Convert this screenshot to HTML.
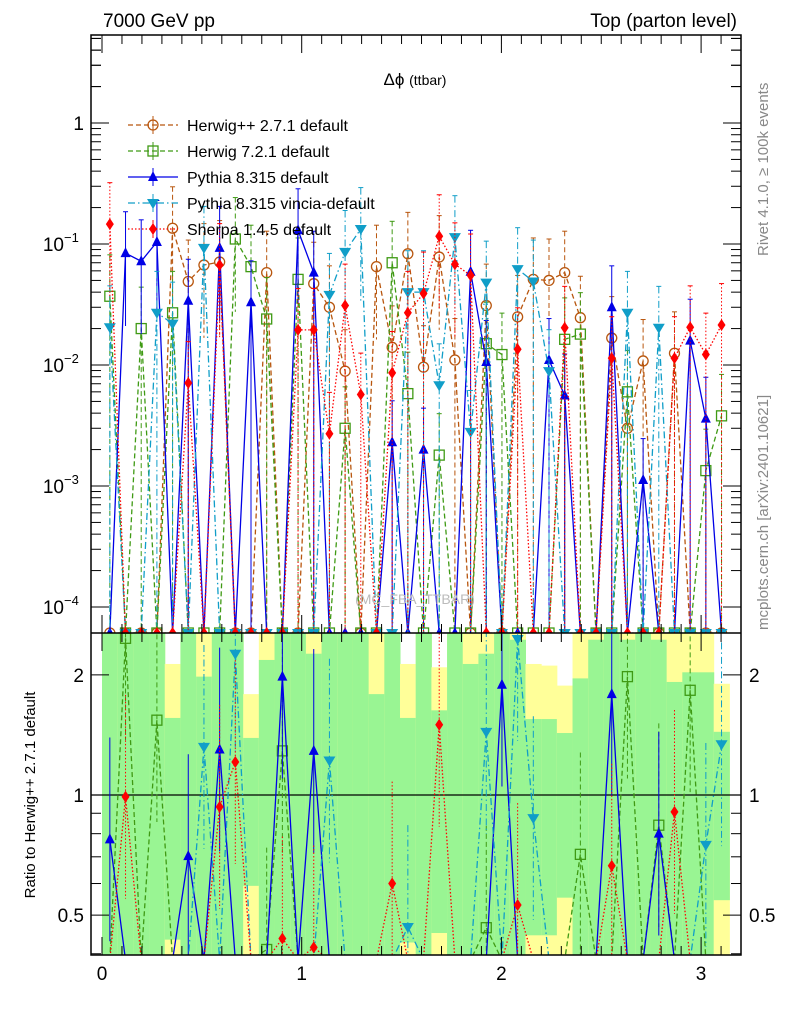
<!DOCTYPE html>
<html><head><meta charset="utf-8"><style>
body{margin:0;background:#fff;width:786px;height:1024px;overflow:hidden}
svg{display:block;font-family:"Liberation Sans",sans-serif}
</style></head><body>
<svg id="c" width="786" height="1024" viewBox="0 0 786 1024"></svg>
<script>
// ---- data (40 bins over 0..pi) ----
const nBins = 40;
const herwigpp = [0,0,0,0,0.135,0.049,0.067,0.071,0,0,0.058,0,0,0.047,0.030,0.0089,0,0.065,0.014,0.083,0.0096,0.078,0.011,0,0.031,0,0.025,0.051,0.050,0.058,0.0246,0,0.0167,0.0030,0.0108,0,0.0125,0,0,0];
const herwig7 = [0.037,0,0.020,0,0.027,0,0,0,0.110,0.065,0.024,0,0.051,0,0,0.0030,0,0,0.070,0.0058,0,0.0018,0,0,0.015,0.0122,0,0,0,0.0163,0.018,0,0,0.0060,0,0,0,0,0.00134,0.0038];
const pythia = [0,0.084,0.072,0.104,0,0.034,0,0.093,0,0.033,0,0,0.130,0.058,0,0,0,0,0.0023,0,0.0020,0,0,0.059,0.0106,0,0,0,0.011,0.0056,0,0,0.030,0,0.00112,0,0,0.0159,0.0036,0];
const vincia = [0.0205,0,0,0.027,0.022,0,0.093,0,0,0,0,0,0,0,0.038,0.086,0.133,0,0,0.040,0.040,0.0068,0.114,0.0028,0.048,0,0.062,0.049,0.0089,0,0,0,0,0.027,0,0.0203,0,0,0,0];
const sherpa = [0.146,0,0,0,0,0.0071,0,0.067,0,0,0,0,0.0195,0.0195,0.0027,0.031,0.0057,0,0.0086,0.027,0.039,0.116,0.068,0.055,0,0,0.0135,0,0,0.0203,0,0,0.0114,0,0,0,0.0114,0.0205,0.0122,0.0214];
// ratio panel points (bin -> ratio)
const rPythia = {0:0.774,5:0.703,7:1.30,11:1.98,13:1.29,25:1.89,32:1.79,35:0.80};
const rHerwig7 = {1:2.47,3:1.54,10:0.41,11:1.29,24:0.465,30:0.71,33:1.98,35:0.84,37:1.83};
const rVincia = {6:1.32,8:2.26,14:1.22,19:0.467,24:1.44,26:2.46,27:0.875,38:0.75,39:1.34};
const rSherpa = {1:0.99,7:0.934,8:1.21,11:0.437,13:0.415,18:0.60,21:1.50,26:0.53,32:0.665,36:0.907};
// uncertainty band edges per bin
const greenHi = [3,3,3,3,1.56,3,1.98,3,3,1.39,2.18,3,3,2.26,3,3,3,1.79,3,1.56,3,1.63,3,2.13,2.26,3,2.45,1.55,1.55,1.43,1.96,2.45,3,2.45,3,2.45,1.92,2.03,2.03,1.44];
const yellowHi = [3,3,3,3,2.13,3,3,3,3,1.79,3,3,3,3,3,3,3,3,3,2.13,3,2.09,3,3,3,3,3,2.13,2.11,1.88,3,3,3,3,3,3,3,3,3,1.90];
const greenLo = [0.3,0.3,0.3,0.3,0.434,0.3,0.3,0.3,0.3,0.592,0.3,0.3,0.3,0.3,0.3,0.3,0.3,0.3,0.3,0.427,0.3,0.451,0.3,0.3,0.3,0.3,0.3,0.445,0.445,0.553,0.3,0.3,0.3,0.3,0.3,0.3,0.3,0.3,0.3,0.545];
const xTicks = [0,1,2,3];
const yMainTicks = [1,0.1,0.01,0.001,0.0001];
const yMainLabels = ["1","10","10","10","10"];
const yMainExp = ["","−1","−2","−3","−4"];
const yRatioTicks = [2,1,0.5];

const NS="http://www.w3.org/2000/svg";
const svg=document.getElementById('c');
function el(tag,attrs,parent){const e=document.createElementNS(NS,tag);for(const k in attrs)e.setAttribute(k,attrs[k]);(parent||svg).appendChild(e);return e;}
const L=91,R=741,T=35,MB=633,B=955;
const xp=v=>102+199.7*v;
const binC=i=>(i+0.5)*Math.PI/nBins;
const binW=Math.PI/nBins;
const yp=v=>v>0?Math.min(MB,123-121*Math.log10(v)):MB;
const ryRaw=r=>795-399*Math.log10(r);
const ry=r=>Math.max(MB,Math.min(B,ryRaw(r)));

const defs=el('defs',{});
const cp1=el('clipPath',{id:'cm'},defs);el('rect',{x:L,y:T,width:R-L,height:MB-T},cp1);
const cp2=el('clipPath',{id:'cr'},defs);el('rect',{x:L,y:MB,width:R-L,height:B-MB},cp2);

const band=el('g',{'clip-path':'url(#cr)'});


for(let i=0;i<nBins;i++){
  const x0=xp(i*binW),w=xp(binW)-xp(0)+0.5;
  const b1=el('rect',{x:x0,y:ry(yellowHi[i]),width:w,height:ry(0.3)-ry(yellowHi[i]),fill:'#ffff99'},band);
  
  
  const b2=el('rect',{x:x0,y:ry(greenHi[i]),width:w,height:ry(greenLo[i])-ry(greenHi[i]),fill:'#99f593'},band);
  
  
}
el('line',{x1:L,x2:R,y1:795,y2:795,stroke:'#000','stroke-width':1.2});

const series=[
 {name:'herwigpp',data:herwigpp,ratio:null,color:'#b8560e',dash:'5,3',marker:'circle',label:'Herwig++ 2.7.1 default'},
 {name:'herwig7',data:herwig7,ratio:rHerwig7,color:'#3f9a14',dash:'5,3',marker:'square',label:'Herwig 7.2.1 default'},
 {name:'pythia',data:pythia,ratio:rPythia,color:'#0000e6',dash:'',marker:'up',label:'Pythia 8.315 default'},
 {name:'vincia',data:vincia,ratio:rVincia,color:'#109ec8',dash:'7,3,1.5,3',marker:'down',label:'Pythia 8.315 vincia-default'},
 {name:'sherpa',data:sherpa,ratio:rSherpa,color:'#ff0000',dash:'1.5,2',marker:'diamond',label:'Sherpa 1.4.5 default'}
];
function marker(g,m,x,y,c){
  let e;
  if(m==='circle')e=el('circle',{cx:x,cy:y,r:5,fill:'none',stroke:c,'stroke-width':1.3},g);
  else if(m==='square')e=el('rect',{x:x-5,y:y-5,width:10,height:10,fill:'none',stroke:c,'stroke-width':1.3},g);
  else if(m==='up')e=el('polygon',{points:`${x},${y-6} ${x-5},${y+4} ${x+5},${y+4}`,fill:c},g);
  else if(m==='down')e=el('polygon',{points:`${x},${y+6} ${x-6},${y-4} ${x+6},${y-4}`,fill:c},g);
  else e=el('polygon',{points:`${x},${y-6} ${x-4},${y} ${x},${y+6} ${x+4},${y}`,fill:c},g);
  return e;
}
series.forEach(s=>{
  const g=el('g',{'clip-path':'url(#cm)'});
  
  
  let pts=[];
  for(let i=0;i<nBins;i++){
    const x=xp(binC(i)),v=s.data[i],y=yp(v);
    pts.push(x+','+y);
    if(v>0){
      const up=yp(v*2.2),lo=v<0.06?MB:yp(v/4);
      el('line',{x1:x,x2:x,y1:up,y2:lo,stroke:s.color,'stroke-width':1,'stroke-dasharray':s.dash},g);
      el('line',{x1:x-2.5,x2:x+2.5,y1:up,y2:up,stroke:s.color,'stroke-width':1},g);
    }
  }
  el('polyline',{points:pts.join(' '),fill:'none',stroke:s.color,'stroke-width':1.3,'stroke-dasharray':s.dash},g);
  for(let i=0;i<nBins;i++){
    const mk=marker(g,s.marker,xp(binC(i)),yp(s.data[i]),s.color);
    
    
  }
  if(s.ratio){
    const gr=el('g',{'clip-path':'url(#cr)'});
    
    
    let rp=[];
    for(let i=0;i<nBins;i++){
      const r=s.ratio[i];const x=xp(binC(i));
      const y=(r===undefined||r===null)?B+5:ryRaw(r);
      rp.push(x+','+y);
      if(r!==undefined&&r!==null){
        el('line',{x1:x,x2:x,y1:ryRaw(r*1.8),y2:ryRaw(r/1.8),stroke:s.color,'stroke-width':1,'stroke-dasharray':s.dash},gr);
      }
    }
    el('polyline',{points:rp.join(' '),fill:'none',stroke:s.color,'stroke-width':1.3,'stroke-dasharray':s.dash},gr);
    for(let i=0;i<nBins;i++){const r=s.ratio[i];if(r!==undefined&&r!==null){
      const mk=marker(gr,s.marker,xp(binC(i)),ryRaw(r),s.color);
      
      
    }}
  }
});

el('rect',{x:L,y:T,width:R-L,height:B-T,fill:'none',stroke:'#000','stroke-width':1.5});
el('line',{x1:L,x2:R,y1:MB,y2:MB,stroke:'#000','stroke-width':1.5});
const tk=el('g',{stroke:'#000','stroke-width':1});
for(let d=-4;d<=0;d++){for(let m=1;m<10;m++){
  const v=m*Math.pow(10,d),y=123-121*Math.log10(v);if(y>MB||y<T)continue;
  const len=m===1?18:10;
  el('line',{x1:L,x2:L+len,y1:y,y2:y},tk);el('line',{x1:R,x2:R-len,y1:y,y2:y},tk);
}}
for(let m=2;m<=5;m++){const y=123-121*Math.log10(m);el('line',{x1:L,x2:L+10,y1:y,y2:y},tk);el('line',{x1:R,x2:R-10,y1:y,y2:y},tk);}
const rmin=[0.4,0.5,0.6,0.7,0.8,0.9,1,2];
rmin.forEach(r=>{const y=ryRaw(r),len=(r===0.5||r===1||r===2)?18:10;el('line',{x1:L,x2:L+len,y1:y,y2:y},tk);el('line',{x1:R,x2:R-len,y1:y,y2:y},tk);});
for(let v=0;v<=3.2;v+=0.1){const x=xp(v);if(x<L||x>R)continue;const major=Math.abs(v-Math.round(v))<1e-6;const len=major?18:9;
  el('line',{x1:x,x2:x,y1:T,y2:T+len},tk);
  el('line',{x1:x,x2:x,y1:MB,y2:MB-len},tk);
  el('line',{x1:x,x2:x,y1:MB,y2:MB+len},tk);
  el('line',{x1:x,x2:x,y1:B,y2:B-len},tk);}

function txt(s,attrs,name){const e=el('text',attrs);e.textContent=s;return e;}
txt('7000 GeV pp',{x:103,y:27,'font-size':19},'beam-label');
txt('Top (parton level)',{x:737,y:27,'font-size':19,'text-anchor':'end'},'process-label');
const tt=txt('',{x:415,y:85,'font-size':17,'text-anchor':'middle'},'plot-title');
const ts1=el('tspan',{},tt);ts1.textContent='Δϕ ';
const ts2=el('tspan',{'font-size':14},tt);ts2.textContent='(ttbar)';
txt('(MC_FBA_TTBAR)',{x:415,y:604,'font-size':14,'text-anchor':'middle',fill:'#bbb'},'analysis-watermark');
txt('Rivet 4.1.0, ≥ 100k events',{x:0,y:0,'font-size':15,fill:'#888',transform:'translate(768,256) rotate(-90)'},'rivet-label');
txt('mcplots.cern.ch [arXiv:2401.10621]',{x:0,y:0,'font-size':15,fill:'#888',transform:'translate(768,630) rotate(-90)'},'mcplots-label');
txt('Ratio to Herwig++ 2.7.1 default',{x:0,y:0,'font-size':15,'text-anchor':'middle',transform:'translate(35,795) rotate(-90)'},'y-axis-title-ratio');
yMainTicks.forEach((v,i)=>{
  const y=123-121*Math.log10(v);
  txt(yMainLabels[i],{x:yMainExp[i]?64:84,y:y+7,'font-size':19,'text-anchor':'end'},'y-tick-label');
  if(yMainExp[i]){txt(yMainExp[i],{x:64,y:y-2,'font-size':13},'y-tick-exponent');}
});
yRatioTicks.forEach(r=>{const y=ryRaw(r);
  txt(String(r),{x:84,y:y+7,'font-size':19,'text-anchor':'end'},'ratio-tick-label-left');
  txt(String(r),{x:749,y:y+7,'font-size':19},'ratio-tick-label-right');});
xTicks.forEach(v=>txt(String(v),{x:xp(v),y:980,'font-size':19,'text-anchor':'middle'},'x-tick-label'));

series.forEach((s,i)=>{
  const y=125+i*26;
  const g=el('g',{});
  
  
  el('line',{x1:128,x2:178,y1:y,y2:y,stroke:s.color,'stroke-width':1.3,'stroke-dasharray':s.dash},g);
  el('line',{x1:153,x2:153,y1:y-9,y2:y+9,stroke:s.color,'stroke-width':1},g);
  marker(g,s.marker,153,y,s.color);
  const t=el('text',{x:187,y:y+6,'font-size':16},g);t.textContent=s.label;
});
</script>
</body></html>
